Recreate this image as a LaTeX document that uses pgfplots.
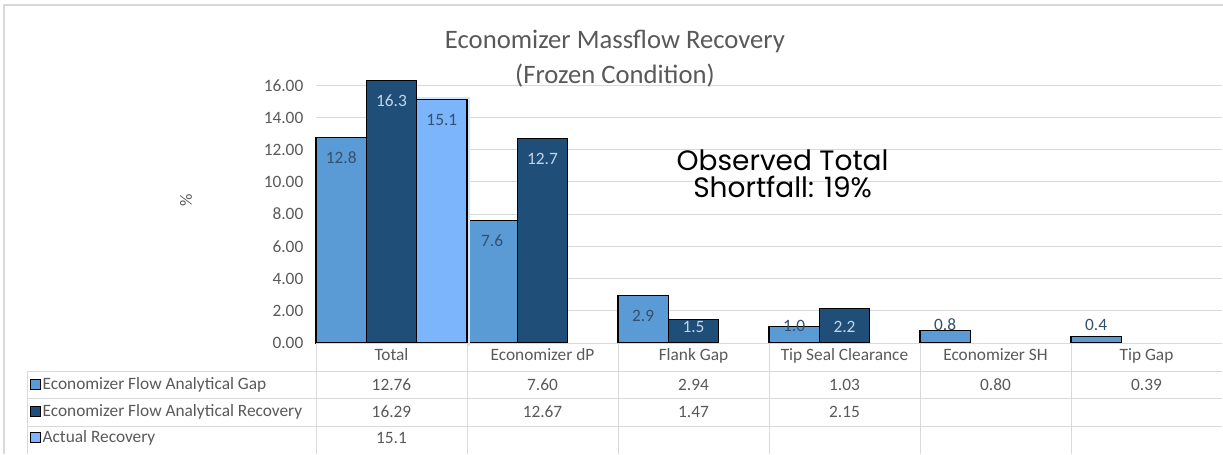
\documentclass[border=0pt]{standalone}
\usepackage{pgfplots}
\pgfplotsset{compat=1.18}
\usepackage{fontspec}
\setmainfont{Carlito}
\newfontfamily\pop{Poppins}
\definecolor{sA}{HTML}{5B9BD5}
\definecolor{sB}{HTML}{1F4E79}
\definecolor{sC}{HTML}{7CB5FB}
\definecolor{gridc}{HTML}{D9D9D9}
\definecolor{txt}{HTML}{595959}
\definecolor{lblD}{HTML}{34506E}
\definecolor{lblL}{HTML}{C5D5E6}
\newcommand{\sz}{\fontsize{13}{15}\selectfont}
\begin{document}
\begin{tikzpicture}
\begin{axis}[
  at={(237pt,83.25pt)}, anchor=south west,
  scale only axis, width=679.5pt, height=217.5pt,
  xmin=-0.5, xmax=5.5, ymin=0, ymax=18,
  clip=false,
  axis line style={draw=none},
  major tick length=0pt,
  /pgf/number format/assume math mode=true,
  ytick={0,2,4,6,8,10,12,14,16},
  ymajorgrids, grid style={gridc, line width=0.75pt},
  yticklabel style={font=\sz, text=txt, xshift=-6pt,
    /pgf/number format/fixed, /pgf/number format/fixed zerofill, /pgf/number format/precision=2},
  xtick={0,1,2,3,4,5},
  xticklabels={Total, Economizer dP, Flank Gap, Tip Seal Clearance, Economizer SH, Tip Gap},
  xticklabel style={font=\sz, text=txt, anchor=base, yshift=-12.75pt},
  ylabel={\%},
  ylabel style={at={(axis description cs:-0.1435,0.493)}, anchor=center, font=\sz, text=txt},
  title={Economizer Massflow Recovery\\(Frozen Condition)},
  title style={align=center, font=\fontsize{20}{26}\selectfont, text=txt, at={(axis description cs:0.33,0.953)}, anchor=center},
  ybar, bar width=0.3333,
]
\addplot[fill=sA, draw=black, line width=0.9pt, bar shift=-0.3333,
  nodes near coords={\pgfmathprintnumber[fixed,fixed zerofill,precision=1]{\pgfplotspointmeta}},
  visualization depends on={value \thisrow{off} \as \off},
  every node near coord/.append style={text=lblD, anchor=center, yshift=\off pt, font=\sz}]
  table[x=x, y=y] {
x y off
0 12.76 -15
1 7.60 -15
2 2.94 -15
3 1.03 0
4 0.80 3.8
5 0.39 8.8
};
\addplot[fill=none, draw=sC!35, line width=4.5pt, bar shift=0.3333, forget plot]
  table[x=x, y=y] {
x y
0 15.1
};
\addplot[fill=sB, draw=black, line width=0.9pt, bar shift=0,
  nodes near coords={\pgfmathprintnumber[fixed,fixed zerofill,precision=1]{\pgfplotspointmeta}},
  visualization depends on={value \thisrow{off} \as \off},
  every node near coord/.append style={text=lblL, anchor=center, yshift=\off pt, font=\sz}]
  table[x=x, y=y] {
x y off
0 16.29 -15
1 12.67 -15
2 1.47 -5.5
3 2.15 -13.8
};
\addplot[fill=sC, draw=black, line width=0.9pt, bar shift=0.3333,
  nodes near coords={\pgfmathprintnumber[fixed,fixed zerofill,precision=1]{\pgfplotspointmeta}},
  visualization depends on={value \thisrow{off} \as \off},
  every node near coord/.append style={text=lblD, anchor=center, yshift=\off pt, font=\sz}]
  table[x=x, y=y] {
x y off
0 15.1 -15
};
\node[font=\pop\fontsize{21}{20.25}\selectfont, align=center, text=black] at (rel axis cs:0.515,0.584) {Observed Total\\Shortfall: 19\%};
\end{axis}
\begin{scope}[x=0.75pt, y=0.75pt]
  \fill[white] (316,106) rectangle (467,110.4);
  \draw[gridc, line width=1pt] (4,0) -- (4,449) -- (1223,449);
  \draw[gridc, line width=0.75pt] (316,111) -- (1222,111);
  \draw[gridc, line width=0.75pt] (27,83) -- (1222,83);
  \draw[gridc, line width=0.75pt] (27,56) -- (1222,56);
  \draw[gridc, line width=0.75pt] (27,28) -- (1222,28);
  \foreach \xx in {316,467,618,769,920,1071} \draw[gridc, line width=0.75pt] (\xx,111) -- (\xx,0);
  \draw[gridc, line width=0.75pt] (27,83) -- (27,0);
  \foreach \yy/\cc in {69.5/sA, 42.5/sB, 16/sC}
    \draw[fill=\cc, draw=black, line width=0.6pt] (30,\yy-4.5) rectangle (40,\yy+5.5);
  \begin{scope}[every node/.style={font=\sz, text=txt}]
  \node[anchor=west, inner sep=1pt] at (41,69.5) {Economizer Flow Analytical Gap};
  \node[anchor=west, inner sep=1pt] at (41,42.5) {Economizer Flow Analytical Recovery};
  \node[anchor=west, inner sep=1pt] at (41,16) {Actual Recovery};
  \foreach \xx/\vv in {391.5/12.76, 542.5/7.60, 693.5/2.94, 844.5/1.03, 995.5/0.80, 1146.5/0.39}
    \node at (\xx,69.5) {\vv};
  \foreach \xx/\vv in {391.5/16.29, 542.5/12.67, 693.5/1.47, 844.5/2.15}
    \node at (\xx,42.5) {\vv};
  \node at (391.5,16) {15.1};
  \end{scope}
\end{scope}
\pgfresetboundingbox
\path[use as bounding box] (0,0) rectangle (917.25pt,340.5pt);
\end{tikzpicture}
\end{document}
